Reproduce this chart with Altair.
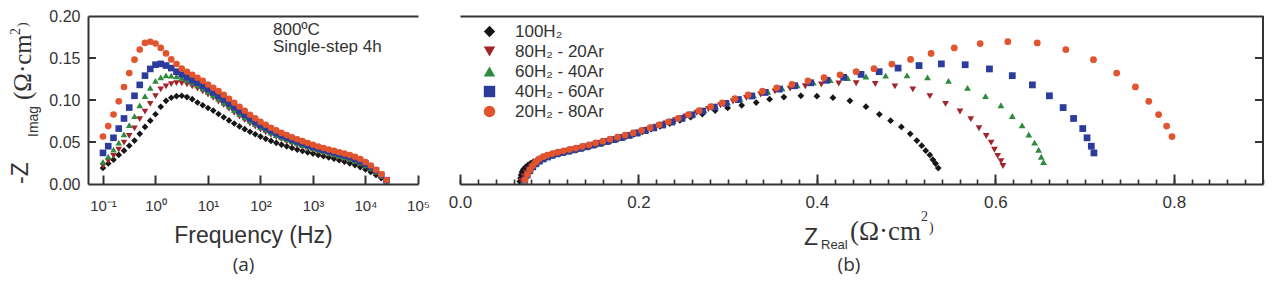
import altair as alt
import pandas as pd

# ---------------- data ----------------
FREQ = [0.1, 0.1259, 0.1585, 0.1995, 0.2512, 0.3162, 0.3981, 0.5012, 0.631, 0.7943,
        1.0, 1.259, 1.585, 1.995, 2.512, 3.162, 3.981, 5.012, 6.31, 7.943,
        10.0, 12.59, 15.85, 19.95, 25.12, 31.62, 39.81, 50.12, 63.1, 79.43,
        100.0, 125.9, 158.5, 199.5, 251.2, 316.2, 398.1, 501.2, 631.0, 794.3,
        1000.0, 1259.0, 1585.0, 1995.0, 2512.0, 3162.0, 3981.0, 5012.0, 6310.0, 7943.0,
        10000.0, 12589.0, 15849.0, 19953.0, 25119.0]

SERIES = ["100H₂", "80H₂ - 20Ar", "60H₂ - 40Ar", "40H₂ - 60Ar", "20H₂ - 80Ar"]
COLORS = ["#161616", "#a3242b", "#2e8a3c", "#2c3c9c", "#e2542d"]
SHAPES = ["diamond", "triangle-down", "triangle-up", "square", "circle"]

ZRE_100 = [0.536, 0.533, 0.530, 0.5266, 0.522, 0.5175, 0.512, 0.5046, 0.4947, 0.4826,
           0.470, 0.455, 0.437, 0.418, 0.400, 0.382, 0.363, 0.347, 0.332, 0.3157,
           0.300, 0.286, 0.2716, 0.2585, 0.2465, 0.235, 0.2242, 0.214, 0.2043, 0.195,
           0.186, 0.1773, 0.169, 0.161, 0.1532, 0.1458, 0.1386, 0.1316, 0.1248, 0.1183,
           0.112, 0.106, 0.1003, 0.095, 0.090, 0.086, 0.0822, 0.079, 0.076, 0.0735,
           0.071, 0.0695, 0.0685, 0.0678, 0.067]
ZIM_100 = [0.019, 0.0244, 0.029, 0.0346, 0.0397, 0.0456, 0.0517, 0.0597, 0.068, 0.0754,
           0.083, 0.092, 0.099, 0.1027, 0.1046, 0.105, 0.1035, 0.101, 0.097, 0.0937,
           0.0905, 0.0874, 0.0833, 0.0795, 0.0757, 0.072, 0.0686, 0.0653, 0.0622, 0.0592,
           0.0564, 0.0538, 0.0513, 0.049, 0.0468, 0.0448, 0.0428, 0.041, 0.0393, 0.0377,
           0.0362, 0.0346, 0.0331, 0.0316, 0.030, 0.0283, 0.0265, 0.0246, 0.0225, 0.0201,
           0.0174, 0.0143, 0.0108, 0.007, 0.003]

ZRE_80 = [0.6085, 0.6063, 0.6026, 0.599, 0.5953, 0.5898, 0.5817, 0.5725, 0.5604, 0.5442,
          0.5266, 0.5075, 0.4874, 0.4654, 0.444, 0.4245, 0.405, 0.387, 0.370, 0.353,
          0.337, 0.321, 0.306, 0.292, 0.2785, 0.2655, 0.253, 0.2415, 0.2305, 0.220,
          0.210, 0.2005, 0.1915, 0.1825, 0.174, 0.1658, 0.1578, 0.150, 0.1425, 0.1352,
          0.1282, 0.1215, 0.115, 0.109, 0.1035, 0.0983, 0.0937, 0.0895, 0.0858, 0.0825,
          0.0795, 0.0767, 0.074, 0.0715, 0.069]
ZIM_80 = [0.0215, 0.0273, 0.0335, 0.0408, 0.0492, 0.0572, 0.0663, 0.0773, 0.0863, 0.0954,
          0.1046, 0.1126, 0.1162, 0.119, 0.120, 0.1197, 0.1185, 0.1163, 0.1135, 0.1102,
          0.1065, 0.1025, 0.0982, 0.0938, 0.0893, 0.0848, 0.0803, 0.076, 0.072, 0.0683,
          0.0648, 0.0615, 0.0585, 0.0557, 0.053, 0.0505, 0.0482, 0.046, 0.0439, 0.042,
          0.0402, 0.0385, 0.0369, 0.0353, 0.0337, 0.0321, 0.0303, 0.0283, 0.0261, 0.0236,
          0.0207, 0.0173, 0.0134, 0.009, 0.0038]

ZRE_60 = [0.654, 0.6514, 0.6485, 0.644, 0.6375, 0.630, 0.619, 0.6063, 0.589, 0.5688,
          0.5475, 0.524, 0.501, 0.477, 0.455, 0.4345, 0.415, 0.396, 0.378, 0.361,
          0.345, 0.329, 0.314, 0.300, 0.2865, 0.2735, 0.261, 0.2495, 0.2385, 0.228,
          0.218, 0.2085, 0.1995, 0.1905, 0.182, 0.1735, 0.1655, 0.1575, 0.1498, 0.1425,
          0.1353, 0.1283, 0.1215, 0.115, 0.109, 0.1035, 0.0985, 0.0938, 0.0895, 0.0857,
          0.0823, 0.0793, 0.0765, 0.0738, 0.0712]
ZIM_60 = [0.0262, 0.0325, 0.0408, 0.0492, 0.059, 0.070, 0.0809, 0.0937, 0.1046, 0.1144,
          0.1227, 0.127, 0.1293, 0.129, 0.128, 0.1262, 0.1238, 0.1208, 0.1175, 0.1138,
          0.1098, 0.1057, 0.1015, 0.097, 0.0925, 0.088, 0.0835, 0.0792, 0.075, 0.0712,
          0.0676, 0.0643, 0.0612, 0.0583, 0.0556, 0.053, 0.0507, 0.0485, 0.0464, 0.0444,
          0.0425, 0.0407, 0.039, 0.0374, 0.0358, 0.0341, 0.0323, 0.0302, 0.0279, 0.0253,
          0.0222, 0.0186, 0.0145, 0.0098, 0.004]

ZRE_40 = [0.7105, 0.7076, 0.7028, 0.698, 0.6877, 0.676, 0.6606, 0.6415, 0.619, 0.5934,
          0.5662, 0.5395, 0.5145, 0.491, 0.4698, 0.4495, 0.430, 0.411, 0.393, 0.375,
          0.358, 0.342, 0.327, 0.312, 0.298, 0.285, 0.272, 0.260, 0.2485, 0.2375,
          0.227, 0.217, 0.2075, 0.1985, 0.1895, 0.181, 0.1725, 0.1645, 0.1565, 0.149,
          0.1415, 0.1345, 0.1275, 0.121, 0.1145, 0.1085, 0.103, 0.098, 0.0932, 0.0888,
          0.085, 0.0815, 0.0783, 0.0753, 0.0726]
ZIM_40 = [0.037, 0.045, 0.055, 0.066, 0.078, 0.091, 0.105, 0.118, 0.129, 0.137,
          0.142, 0.143, 0.141, 0.138, 0.1337, 0.1305, 0.127, 0.1235, 0.1205, 0.117,
          0.113, 0.109, 0.1048, 0.1005, 0.096, 0.0915, 0.0868, 0.0823, 0.078, 0.0738,
          0.0702, 0.0668, 0.0636, 0.0606, 0.0578, 0.0553, 0.0529, 0.0506, 0.0484, 0.0463,
          0.0443, 0.0424, 0.0407, 0.0391, 0.0375, 0.0359, 0.0341, 0.0321, 0.0298, 0.0272,
          0.0241, 0.0204, 0.016, 0.0108, 0.0045]

ZRE_20 = [0.798, 0.792, 0.783, 0.772, 0.757, 0.736, 0.710, 0.679, 0.647, 0.614,
          0.583, 0.554, 0.528, 0.505, 0.484, 0.464, 0.444, 0.426, 0.408, 0.390,
          0.372, 0.355, 0.339, 0.323, 0.308, 0.294, 0.281, 0.268, 0.256, 0.2445,
          0.2335, 0.223, 0.213, 0.2035, 0.194, 0.185, 0.1765, 0.168, 0.160, 0.152,
          0.1445, 0.137, 0.1298, 0.1228, 0.116, 0.1095, 0.1035, 0.098, 0.0932, 0.0888,
          0.085, 0.0815, 0.0784, 0.0755, 0.0728]
ZIM_20 = [0.0565, 0.0689, 0.0827, 0.0984, 0.1155, 0.132, 0.148, 0.160, 0.168, 0.1694,
          0.1672, 0.162, 0.1555, 0.1483, 0.1428, 0.1373, 0.1337, 0.130, 0.1265, 0.1228,
          0.1185, 0.1145, 0.1105, 0.1062, 0.1015, 0.0967, 0.092, 0.0872, 0.0825, 0.0782,
          0.074, 0.0705, 0.067, 0.0638, 0.0608, 0.0582, 0.0557, 0.0533, 0.051, 0.0488,
          0.0467, 0.0447, 0.0428, 0.0411, 0.0395, 0.0378, 0.0362, 0.0345, 0.0325, 0.0298,
          0.0262, 0.022, 0.017, 0.0115, 0.0048]

FREQ_TICKS = [0.1, 1, 10, 100, 1000, 10000, 100000]
Y_LABELS = [0.0, 0.05, 0.10, 0.15, 0.20]
Y_INNER = [0.05, 0.10, 0.15]
ZRE_LABELS = [0.0, 0.2, 0.4, 0.6, 0.8]
ZRE_MINOR = [round(i * 0.02, 2) for i in range(46)]

# ---------------- table ----------------
rows = []
for name, zre, zim in zip(SERIES, [ZRE_100, ZRE_80, ZRE_60, ZRE_40, ZRE_20],
                          [ZIM_100, ZIM_80, ZIM_60, ZIM_40, ZIM_20]):
    for f, a, b in zip(FREQ, zre, zim):
        rows.append({"series": name, "freq": f, "zre": a, "zim": b})
df = pd.DataFrame(rows)
one = pd.DataFrame({"k": [0]})
yticks_df = pd.DataFrame({"v": Y_INNER})

# ---------------- geometry ----------------
W, H = 1176, 168
A_RANGE = [0, 330]
B_RANGE = [372, W - 1]
INK = "#333333"
SANS = "Liberation Sans, Arial, Helvetica, sans-serif"
SERIF = "Liberation Serif, Times New Roman, serif"


def yscale():
    return alt.Scale(domain=[0, 0.2], nice=False, zero=False)


xa = alt.Scale(type="log", domain=[0.0518, 100000], range=A_RANGE, nice=False)
xb = alt.Scale(domain=[0, 0.9], range=B_RANGE, nice=False, zero=False)

sup_expr = ("datum.value < 0.5 ? '10⁻¹' : datum.value < 5 ? '10⁰' : datum.value < 50 ? '10¹' : "
            "datum.value < 500 ? '10²' : datum.value < 5000 ? '10³' : datum.value < 50000 ? '10⁴' : '10⁵'")

base = alt.Chart(df)


def invisible():
    return base.mark_point(opacity=0, size=1)


leg = alt.Legend(title=None, orient="none", legendX=393, legendY=7, padding=0,
                 labelFont=SANS, labelFontSize=17, labelColor=INK, labelOffset=17,
                 symbolSize=130, symbolStrokeWidth=0, symbolOpacity=1, rowPadding=2)
color_enc = alt.Color("series:N", scale=alt.Scale(domain=SERIES, range=COLORS), legend=leg)
shape_enc = alt.Shape("series:N", scale=alt.Scale(domain=SERIES, range=SHAPES), legend=leg)

# ----- panel (a): Bode plot -----
a_points = base.mark_point(filled=True, size=44, opacity=1).encode(
    x=alt.X("freq:Q", scale=xa, axis=alt.Axis(
        orient="bottom", values=FREQ_TICKS, labelExpr=sup_expr, ticks=False, tickSize=0,
        domain=True, domainWidth=2, domainColor=INK, labelFont=SANS, labelFontSize=15,
        labelPadding=14, labelColor=INK, labelOverlap=False, labelFlush=False,
        title="Frequency (Hz)", titleFont=SANS, titleFontSize=23, titleFontWeight="normal",
        titleColor=INK, titleY=51, titleBaseline="middle")),
    y=alt.Y("zim:Q", scale=yscale(), axis=alt.Axis(
        orient="left", values=Y_LABELS, format=".2f", ticks=False, tickSize=0,
        domain=True, domainWidth=2, domainColor=INK, labelFont=SANS, labelFontSize=16,
        labelPadding=8, labelColor=INK, labelFlush=False, labelOverlap=False, title=None)),
    color=color_enc, shape=shape_enc,
)
a_ticks = invisible().encode(
    x=alt.X("freq:Q", scale=xa, axis=alt.Axis(
        orient="top", offset=-H, values=FREQ_TICKS, ticks=True, tickSize=9, tickWidth=2,
        tickColor=INK, labels=False, domain=False, title=None)),
    y=alt.Y("zim:Q", scale=yscale(), axis=None),
)
a_top = invisible().encode(
    x=alt.X("freq:Q", scale=xa, axis=alt.Axis(
        orient="top", ticks=False, labels=False, domain=True, domainWidth=2,
        domainColor=INK, title=None)),
    y=alt.Y("zim:Q", scale=yscale(), axis=None),
)
# inward y ticks on the left frame of panel (a)
a_yticks = alt.Chart(yticks_df).mark_rule(color=INK, strokeWidth=2).encode(
    y=alt.Y("v:Q", scale=yscale(), axis=None),
    x=alt.value(0), x2=alt.value(8),
)

# ----- panel (b): Nyquist plot -----
b_points = base.mark_point(filled=True, size=46, opacity=1).encode(
    x=alt.X("zre:Q", scale=xb, axis=alt.Axis(
        orient="bottom", values=ZRE_LABELS, format=".1f", ticks=False, tickSize=0,
        domain=True, domainWidth=2, domainColor=INK, labelFont=SANS, labelFontSize=17,
        labelPadding=10, labelColor=INK, labelFlush=False, labelOverlap=False, title=None)),
    y=alt.Y("zim:Q", scale=yscale(), axis=None),
    color=color_enc, shape=shape_enc,
)
b_minor = invisible().encode(
    x=alt.X("zre:Q", scale=xb, axis=alt.Axis(
        orient="top", offset=-H, values=ZRE_MINOR, ticks=True, tickSize=5, tickWidth=1.6,
        tickColor=INK, labels=False, domain=False, title=None)),
    y=alt.Y("zim:Q", scale=yscale(), axis=None),
)
b_major = invisible().encode(
    x=alt.X("zre:Q", scale=xb, axis=alt.Axis(
        orient="top", offset=-H, values=ZRE_LABELS, ticks=True, tickSize=10, tickWidth=2,
        tickColor=INK, labels=False, domain=False, title=None)),
    y=alt.Y("zim:Q", scale=yscale(), axis=None),
)
b_top = invisible().encode(
    x=alt.X("zre:Q", scale=xb, axis=alt.Axis(
        orient="top", ticks=False, labels=False, domain=True, domainWidth=2,
        domainColor=INK, title=None)),
    y=alt.Y("zim:Q", scale=yscale(), axis=None),
)
# right frame of panel (b) with inward ticks
b_right = alt.Chart(one).mark_rule(color=INK, strokeWidth=2).encode(
    x=alt.value(W - 1), x2=alt.value(W - 1), y=alt.value(0), y2=alt.value(H),
)
b_yticks = alt.Chart(yticks_df).mark_rule(color=INK, strokeWidth=2).encode(
    y=alt.Y("v:Q", scale=yscale(), axis=None),
    x=alt.value(W - 9), x2=alt.value(W - 1),
)


# ----- text -----
def txt(s, x, y, size, font=SANS, angle=None, align="left", baseline="alphabetic"):
    kw = dict(text=s, font=font, fontSize=size, color=INK, align=align, baseline=baseline)
    if angle is not None:
        kw["angle"] = angle
    return alt.Chart(one).mark_text(**kw).encode(x=alt.value(x), y=alt.value(y))


texts = [
    # y title of panel (a), rotated
    txt("-Z", -60, 168, 23, angle=270),
    txt("Imag", -50, 121, 14, angle=270),
    txt("(Ω·cm", -57, 84, 25, font=SERIF, angle=270),
    txt("2", -68, 19, 14, font=SERIF, angle=270),
    txt(")", -61, 11, 14, font=SERIF, angle=270),
    # x title of panel (b)
    txt("Z", 716, 229, 23),
    txt("Real", 733, 233, 13),
    txt("(Ω·cm", 762, 224, 27, font=SERIF),
    txt("2", 833, 205, 14, font=SERIF),
    txt(")", 841, 216, 14, font=SERIF),
    # annotation in panel (a)
    txt("800ºC", 185, 19, 17),
    txt("Single-step 4h", 185, 36, 17),
    # panel letters
    txt("(a)", 155.5, 249, 19, font="Open Sans", align="center", baseline="middle"),
    txt("(b)", 761, 249, 19, font="Open Sans", align="center", baseline="middle"),
]

chart = alt.layer(
    a_points, a_ticks, a_top, a_yticks,
    b_points, b_minor, b_major, b_top, b_right, b_yticks, *texts
).resolve_scale(
    x="independent", y="independent"
).resolve_axis(
    x="independent", y="independent"
).properties(
    width=W, height=H,
    autosize=alt.AutoSizeParams(type="none"),
    padding={"left": 80, "top": 8, "right": 4, "bottom": 94},
    background="white",
).configure_view(stroke=None).configure_axis(grid=False)

chart.save("out.html", embed_options={"renderer": "svg", "actions": False})
